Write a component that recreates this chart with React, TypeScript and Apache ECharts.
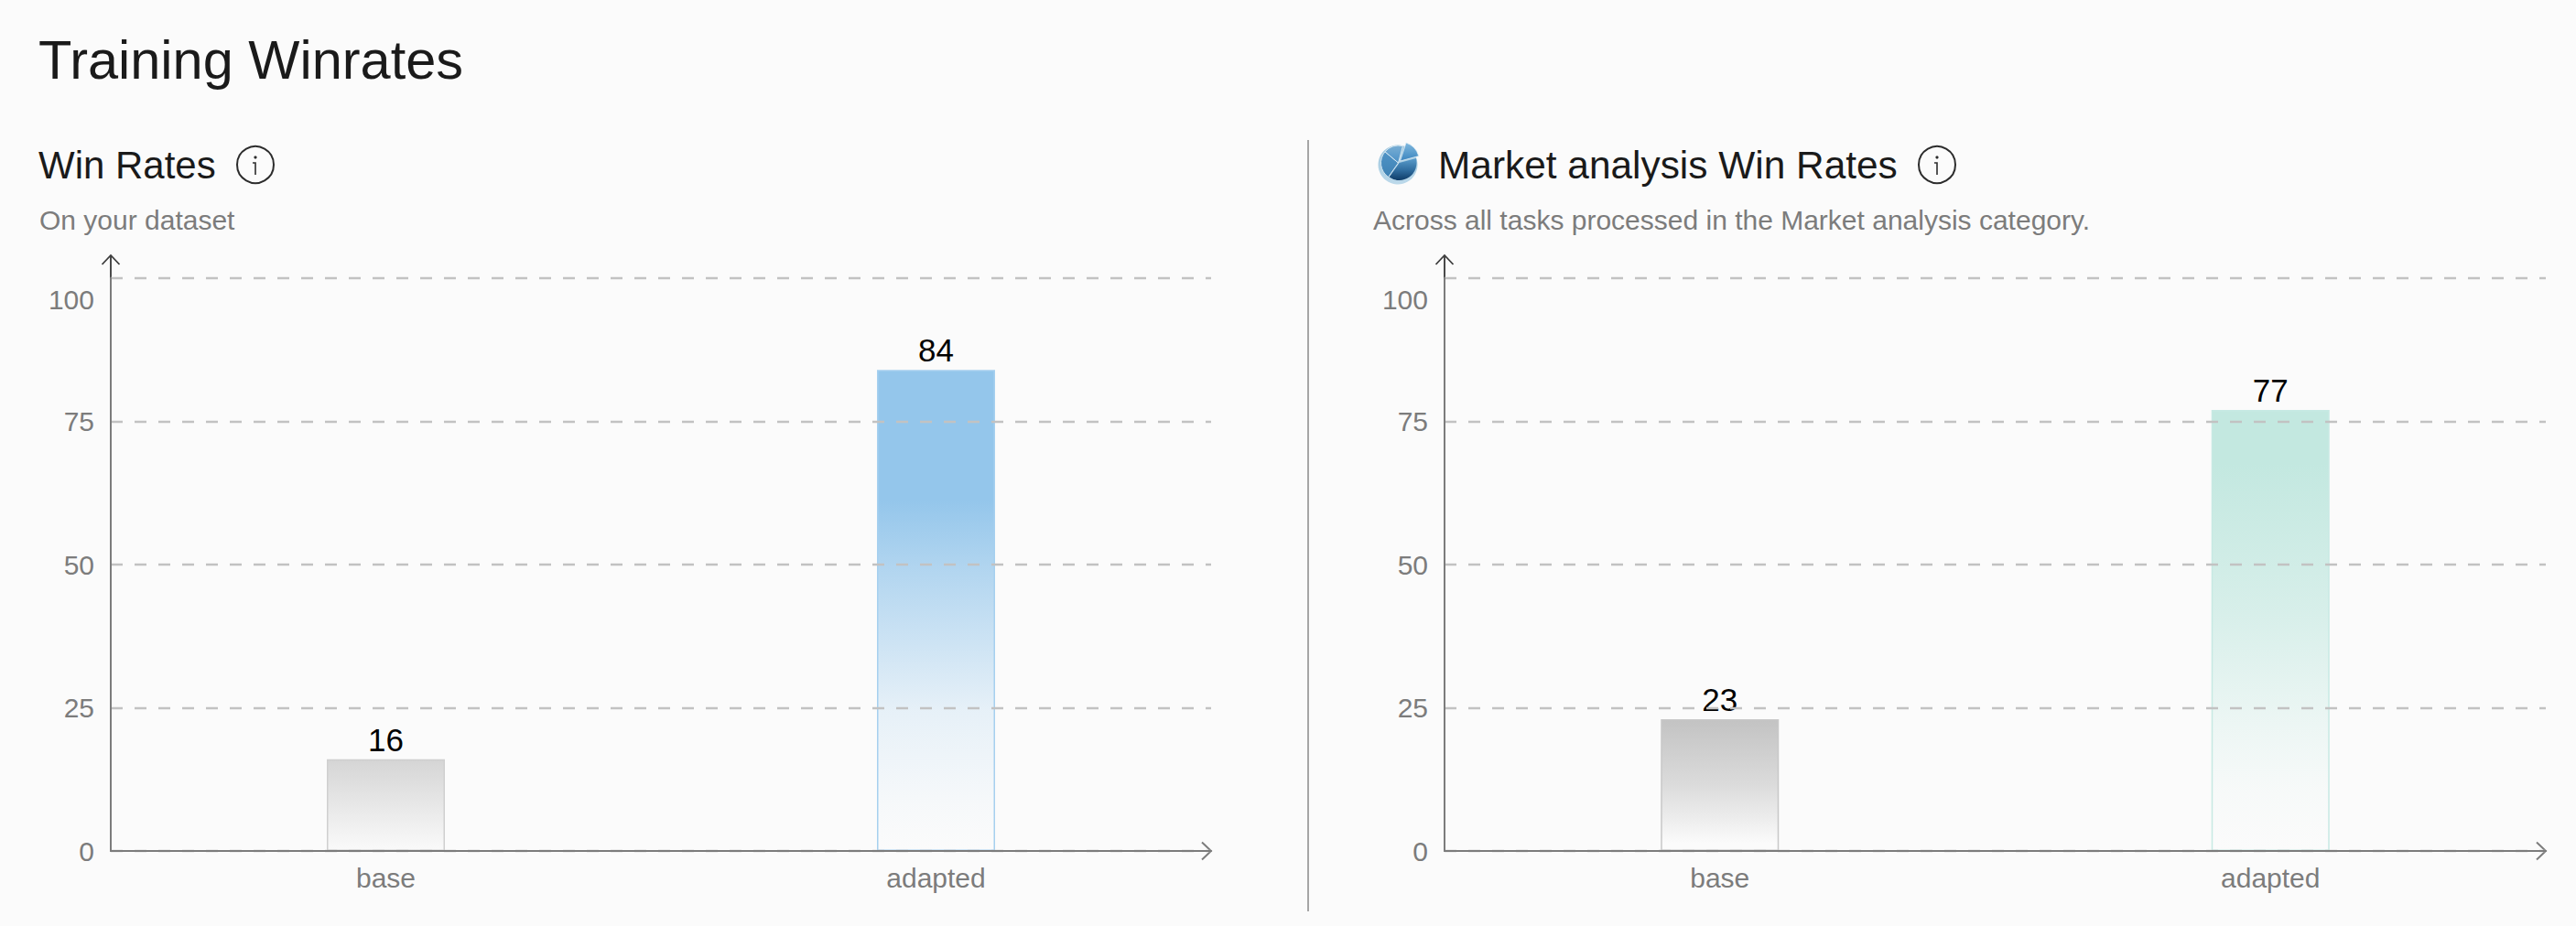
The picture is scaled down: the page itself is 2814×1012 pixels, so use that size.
import React, { useEffect, useRef } from "react";
import * as echarts from "echarts";

const categories = ["base", "adapted"];
const datasetWinRates = [16, 84];
const marketWinRates = [23, 77];
const yMax = 100;
const yStep = 25;
const labels = {
  page: "Training Winrates",
  leftTitle: "Win Rates",
  leftSub: "On your dataset",
  rightTitle: "Market analysis Win Rates",
  rightSub: "Across all tasks processed in the Market analysis category.",
};

const FONT = '"Liberation Sans", Arial, sans-serif';
const BG = "#fbfbfb";
const GREY = "#7c7c7c";

type Stop = [number, string];
const grad = (stops: Stop[]) => ({
  type: "linear", x: 0, y: 0, x2: 0, y2: 1,
  colorStops: stops.map(([offset, color]) => ({ offset, color })),
});

const leftBase = grad([[0, "rgba(190,190,190,0.62)"], [0.5, "rgba(190,190,190,0.32)"], [1, "rgba(190,190,190,0.02)"]]);
const leftAdapted = grad([[0, "rgba(148,198,235,1)"], [0.27, "rgba(148,198,235,1)"], [0.41, "rgba(148,198,235,0.72)"], [0.71, "rgba(148,198,235,0.2)"], [0.9, "rgba(148,198,235,0.05)"], [1, "rgba(148,198,235,0)"]]);
const rightBase = grad([[0, "rgba(190,190,190,0.92)"], [0.5, "rgba(190,190,190,0.52)"], [0.75, "rgba(190,190,190,0.24)"], [0.95, "rgba(190,190,190,0)"], [1, "rgba(190,190,190,0)"]]);
const rightAdapted = grad([[0, "rgba(195,232,224,1)"], [0.12, "rgba(195,232,224,1)"], [0.45, "rgba(195,232,224,0.65)"], [0.7, "rgba(195,232,224,0.28)"], [0.86, "rgba(195,232,224,0.08)"], [1, "rgba(195,232,224,0)"]]);

function text(t: string, x: number, y: number, size: number, fill: string) {
  return { type: "text", x, y, silent: true, style: { text: t, font: `400 ${size}px ${FONT}`, fill, verticalAlign: "middle", align: "left" } };
}

function infoIcon(cx: number, cy: number) {
  const s = { stroke: "#2c2c2c", fill: "none", lineWidth: 2 };
  return [
    { type: "circle", silent: true, shape: { cx, cy, r: 20 }, style: s },
    { type: "circle", silent: true, shape: { cx, cy: cy - 8, r: 1.6 }, style: { fill: "#2c2c2c" } },
    { type: "polyline", silent: true, shape: { points: [[cx - 3, cy - 2], [cx, cy - 2], [cx, cy + 11]] }, style: { stroke: "#2c2c2c", fill: "none", lineWidth: 1.6 } },
  ];
}

function arrows(x0: number, x1: number, yTop: number, yBase: number) {
  const tip = yTop - 25;
  return [
    { type: "polyline", silent: true, shape: { points: [[x0, yTop], [x0, tip]] }, style: { stroke: "#4a4a4a", lineWidth: 2, fill: "none" } },
    { type: "polyline", silent: true, shape: { points: [[x0 - 9.5, tip + 10], [x0, tip], [x0 + 9.5, tip + 10]] }, style: { stroke: "#3c3c3c", lineWidth: 1.8, fill: "none" } },
    { type: "polyline", silent: true, shape: { points: [[x1 - 10, yBase - 9.5], [x1, yBase], [x1 - 10, yBase + 9.5]] }, style: { stroke: GREY, lineWidth: 2, fill: "none" } },
  ];
}

function pieIcon(cx: number, cy: number) {
  const d = (a: number) => (a * Math.PI) / 180;
  const mx = cx + 0.5, my = cy - 2;
  return [
    { type: "circle", silent: true, shape: { cx, cy, r: 21.5 }, style: { fill: grad([[0, "#9cc6de"], [1, "#bcd9ea"]]) } },
    { type: "sector", silent: true, shape: { cx: mx + 1, cy: my, r: 19, r0: 0, startAngle: d(-15), endAngle: d(125) }, style: { fill: grad([[0, "#5a9ccb"], [0.55, "#2f6c9e"], [1, "#0f3c68"]]) } },
    { type: "sector", silent: true, shape: { cx: mx, cy: my, r: 19, r0: 0, startAngle: d(125), endAngle: d(220) }, style: { fill: grad([[0, "#4f93c6"], [1, "#3f82b4"]]), stroke: "#cfe3ef", lineWidth: 1 } },
    { type: "sector", silent: true, shape: { cx: mx, cy: my, r: 19, r0: 0, startAngle: d(220), endAngle: d(285) }, style: { fill: grad([[0, "#79aed4"], [1, "#4a90c6"]]), stroke: "#d5e7f1", lineWidth: 1 } },
    { type: "sector", silent: true, shape: { cx: mx + 2, cy: my - 2, r: 21, r0: 0, startAngle: d(288), endAngle: d(345) }, style: { fill: grad([[0, "#80b8de"], [1, "#3b85bf"]]), stroke: "#e0edf5", lineWidth: 0.8 } },
  ];
}

const dividerX = 1429;
const leftGrid = { x0: 121, x1: 1323 };
const rightGrid = { x0: 1578, x1: 2781 };
const gridTop = 304;
const gridBase = 930;

function buildOption() {
  const W = 2814, H = 1012;
  const panels = [
    { g: leftGrid, values: datasetWinRates, colors: [leftBase, leftAdapted], borders: ["#cfcfcf", "#a6d0ef"] },
    { g: rightGrid, values: marketWinRates, colors: [rightBase, rightAdapted], borders: ["#c8c8c8", "#c7e9e3"] },
  ];
  return {
    animation: false,
    backgroundColor: BG,
    grid: panels.map((p) => ({ left: p.g.x0, right: W - p.g.x1, top: gridTop, bottom: H - gridBase, containLabel: false })),
    xAxis: panels.map((_, i) => ({
      type: "category", gridIndex: i, data: categories, z: 3,
      axisTick: { show: false },
      axisLine: { lineStyle: { color: GREY, width: 2 } },
      axisLabel: { color: GREY, fontFamily: FONT, fontSize: 30, margin: 14 },
    })),
    yAxis: panels.map((_, i) => ({
      type: "value", gridIndex: i, min: 0, max: yMax, interval: yStep, z: 3,
      axisLine: { show: true, lineStyle: { color: GREY, width: 2 } },
      axisTick: { show: false },
      axisLabel: {
        color: GREY, fontFamily: FONT, fontSize: 30, margin: 18,
        formatter: (v: number) => (v === yMax ? `{top|${v}}` : `${v}`),
        rich: { top: { color: GREY, fontFamily: FONT, fontSize: 30, padding: [46, 0, 0, 0] } },
      },
      splitLine: { show: true, lineStyle: { color: "#c2c2c2", width: 2.4, type: [13, 13] } },
    })),
    series: panels.map((p, i) => ({
      type: "bar", xAxisIndex: i, yAxisIndex: i, barWidth: 129,
      label: { show: true, position: "top", distance: 4, color: "#000", fontFamily: FONT, fontSize: 35 },
      data: p.values.map((value, j) => ({
        value,
        itemStyle: { color: p.colors[j], borderColor: p.borders[j], borderWidth: 1.5 },
      })),
    })),
    graphic: {
      elements: [
        text(labels.page, 42, 65, 59.5, "#1a1a1a"),
        text(labels.leftTitle, 42, 180, 42, "#1a1a1a"),
        text(labels.leftSub, 43, 240, 30, GREY),
        ...infoIcon(279, 180),
        ...arrows(leftGrid.x0, leftGrid.x1, gridTop, gridBase),
        { type: "line", silent: true, shape: { x1: dividerX, y1: 153, x2: dividerX, y2: 996 }, style: { stroke: "#a6a6a6", lineWidth: 2 } },
        ...pieIcon(1527, 180),
        text(labels.rightTitle, 1571, 180, 42.4, "#1a1a1a"),
        ...infoIcon(2116, 180),
        text(labels.rightSub, 1500, 240, 30, GREY),
        ...arrows(rightGrid.x0, rightGrid.x1, gridTop, gridBase),
      ],
    },
  };
}

export default function App() {
  const ref = useRef<HTMLDivElement>(null);
  useEffect(() => {
    if (!ref.current) return;
    const chart = echarts.init(ref.current, undefined, { renderer: "svg" });
    chart.setOption(buildOption() as any);
    return () => chart.dispose();
  }, []);
  return <div ref={ref} style={{ position: "absolute", left: 0, top: 0, width: 2814, height: 1012, background: BG }} />;
}
